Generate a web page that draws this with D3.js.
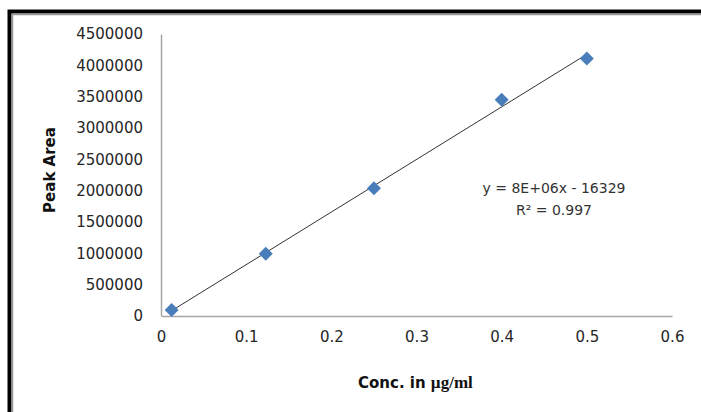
<!DOCTYPE html>
<html><head><meta charset="utf-8">
<script src="https://cdn.jsdelivr.net/npm/d3@7"></script>
<style>html,body{margin:0;background:#fff;overflow:hidden;width:701px;height:412px}svg{display:block}</style>
</head><body>
<svg id="c" width="701" height="412" overflow="hidden"></svg>
<script>
const concentrations = [0.0125, 0.123, 0.25, 0.4, 0.5];
const peakAreas = [95000, 994000, 2040000, 3450000, 4110000];
const yTicks = [0, 500000, 1000000, 1500000, 2000000, 2500000, 3000000, 3500000, 4000000, 4500000];
const xTicks = [0, 0.1, 0.2, 0.3, 0.4, 0.5, 0.6];
const equationText = "y = 8E+06x - 16329";
const r2Text = "R² = 0.997";

const svg = d3.select("#c");
// frame (only top and left edges are visible)
svg.append("path").attr("d", "M9.5,420V11.5H720").attr("fill", "none").attr("stroke", "#000").attr("stroke-width", 4);
svg.append("path").attr("d", "M12.5,420V14.5H720").attr("fill", "none").attr("stroke", "#999").attr("stroke-width", 1.5);

const x = d3.scaleLinear().domain([0, 0.6]).range([161, 672]);
const y = d3.scaleLinear().domain([0, 4500000]).range([316, 34]);

const font = "DejaVu Sans, sans-serif";
const yAxis = svg.append("g").attr("transform", "translate(161,0)")
  .call(d3.axisLeft(y).tickValues(yTicks).tickSize(0).tickPadding(18).tickFormat(d3.format("d")));
yAxis.select(".domain").attr("stroke", "#a6a6a6").attr("stroke-width", 1.5);
yAxis.selectAll("text").attr("font-family", font).attr("font-size", 15).attr("fill", "#262626");

const xAxis = svg.append("g").attr("transform", "translate(0,316)")
  .call(d3.axisBottom(x).tickValues(xTicks).tickSize(0).tickPadding(15).tickFormat(d => d === 0 ? "0" : d3.format(".1f")(d)));
xAxis.select(".domain").attr("stroke", "#a6a6a6").attr("stroke-width", 1.5);
xAxis.selectAll("text").attr("font-family", font).attr("font-size", 15).attr("fill", "#262626");

// trendline (least squares)
const n = concentrations.length;
const mx = d3.mean(concentrations), my = d3.mean(peakAreas);
let sxy = 0, sxx = 0;
for (let i = 0; i < n; i++) { sxy += (concentrations[i]-mx)*(peakAreas[i]-my); sxx += (concentrations[i]-mx)**2; }
const slope = sxy / sxx, icpt = my - slope*mx;
const x0 = d3.min(concentrations), x1 = d3.max(concentrations);
svg.append("line").attr("x1", x(x0)).attr("y1", y(slope*x0+icpt)).attr("x2", x(x1)).attr("y2", y(slope*x1+icpt))
  .attr("stroke", "#333").attr("stroke-width", 1);

// markers
svg.selectAll("path.pt").data(concentrations).enter().append("path")
  .attr("class", "pt")
  .attr("d", "M0,-7L7,0L0,7L-7,0Z")
  .attr("transform", (d, i) => `translate(${x(d)},${y(peakAreas[i])})`)
  .attr("fill", "#4a7ebb");

// equation
svg.append("text").attr("x", 554).attr("y", 193).attr("text-anchor", "middle")
  .attr("font-family", font).attr("font-size", 14).attr("fill", "#333").text(equationText);
svg.append("text").attr("x", 554).attr("y", 215).attr("text-anchor", "middle")
  .attr("font-family", font).attr("font-size", 14).attr("fill", "#333").text(r2Text);

// axis titles
svg.append("text").attr("transform", "translate(55,170) rotate(-90)").attr("text-anchor", "middle")
  .attr("font-family", font).attr("font-size", 15).attr("font-weight", "bold").attr("fill", "#111").text("Peak Area");
const xt = svg.append("text").attr("x", 358).attr("y", 388)
  .attr("font-size", 15).attr("font-weight", "bold").attr("fill", "#111");
xt.append("tspan").attr("font-family", font).text("Conc. in ");
xt.append("tspan").attr("font-family", "Liberation Serif, serif").attr("font-size", 17).text("µg/ml");
</script>
</body></html>
